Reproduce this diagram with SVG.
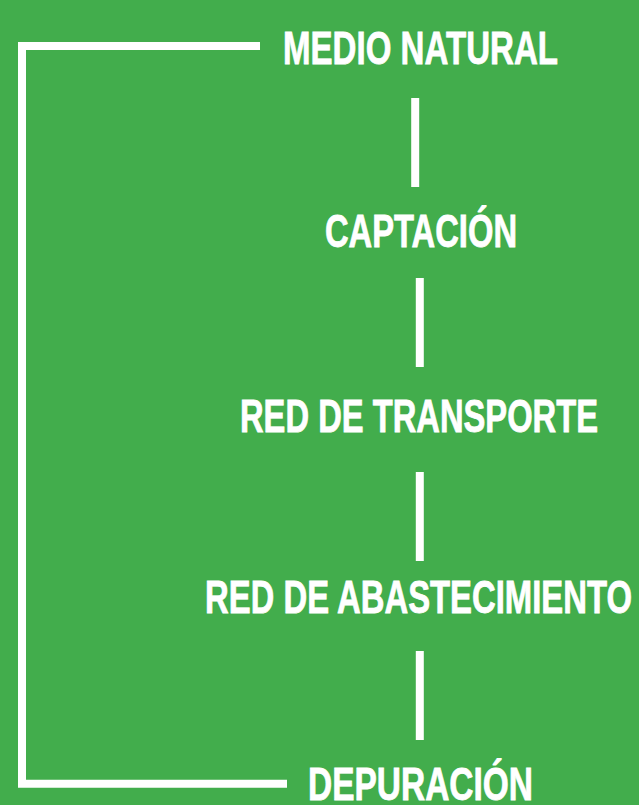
<svg xmlns="http://www.w3.org/2000/svg" width="639" height="805" viewBox="0 0 639 805">
<style>
.lbl{font-family:"Liberation Sans","DejaVu Sans",Arial,sans-serif;font-weight:bold;font-size:46px;fill:#ffffff;stroke:#ffffff;stroke-width:0.8}
.ln{stroke:#ffffff;stroke-width:8;fill:none}
</style>
<rect x="0" y="0" width="639" height="805" fill="#42ad4c"/>
<g id="connectors">
<path class="ln" d="M260,46 H22 V783.8 H287" stroke-width="7.5" stroke-linejoin="miter"/>
<line class="ln" x1="415.2" y1="98" x2="415.2" y2="187"/>
<line class="ln" x1="419.8" y1="278" x2="419.8" y2="367"/>
<line class="ln" x1="419.8" y1="472" x2="419.8" y2="561"/>
<line class="ln" x1="419.8" y1="651" x2="419.8" y2="740"/>
</g>
<g id="medio-natural"><text class="lbl" x="283" y="63.5" textLength="275" lengthAdjust="spacingAndGlyphs">MEDIO NATURAL</text></g>
<g id="captacion"><text class="lbl" x="325" y="246.7" textLength="192" lengthAdjust="spacingAndGlyphs">CAPTACIÓN</text></g>
<g id="red-transporte"><text class="lbl" x="240" y="431.7" textLength="358" lengthAdjust="spacingAndGlyphs">RED DE TRANSPORTE</text></g>
<g id="red-abastecimiento"><text class="lbl" x="205" y="613" textLength="427" lengthAdjust="spacingAndGlyphs">RED DE ABASTECIMIENTO</text></g>
<g id="depuracion"><text class="lbl" x="308" y="800" textLength="225" lengthAdjust="spacingAndGlyphs">DEPURACIÓN</text></g>
</svg>
